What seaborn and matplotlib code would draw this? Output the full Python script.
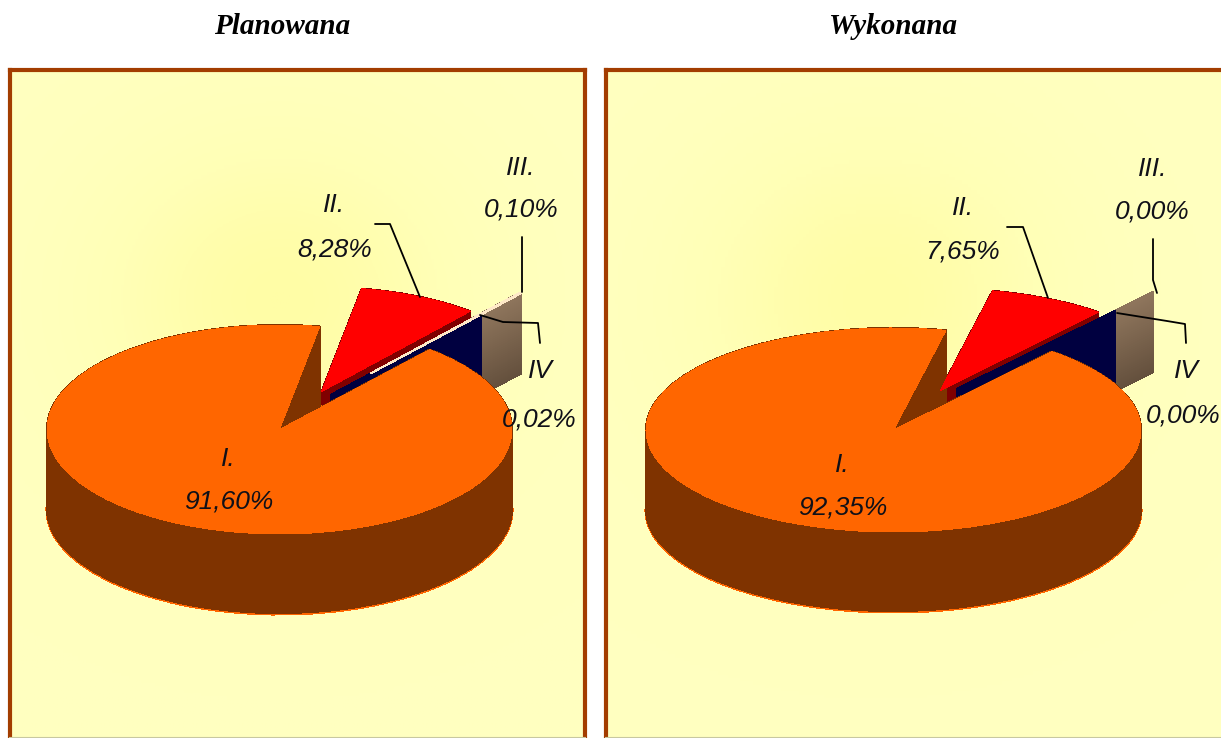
import numpy as np
import seaborn as sns
import matplotlib.pyplot as plt

sns.set_theme(style="white")

# Chart values
titles = ["Planowana", "Wykonana"]
categories = ["I.", "II.", "III.", "IV"]
plan_values = [91.60, 8.28, 0.10, 0.02]
done_values = [92.35, 7.65, 0.00, 0.00]

top_colors = ["#FF6600", "#FF0000", "#FFE9C8", "#000040"]
side_colors = ["#7F3300", "#800000", None, "#000040"]

W, H = 1221, 738
DEPTH_PX = 80

# box is in reference pixels: left, right, top, bottom; shift is a small per-slice pixel nudge
panels = [
    dict(title=titles[0], values=plan_values, box=(10, 585, 70, 738), cx=279.5, cy=429.5, rx=232.5, ry=104.5,
         start=409.8, explode=[0, 0.40, 0.64, 0.37], shift=[(0, 0), (3, 0), (-4, -5), (-4, -5)], title_xy=(282, 27),
         label_xy=[(228, 459, 229, 502), (334, 205, 335, 249), (521, 168, 521, 210), (540, 371, 539, 419)],
         leaders=[[(375, 224), (390, 224), (420, 297)],
                  [(522, 237), (522, 292)],
                  [(480, 315), (503, 322), (538, 323), (540, 343)]]),
    dict(title=titles[1], values=done_values, box=(606, 1230, 70, 738), cx=893.5, cy=430, rx=247.5, ry=102,
         start=410.2, explode=[0, 0.43, 0.67, 0.43], shift=[(0, 0), (0, 0), (-5, -7), (-5, -7)], title_xy=(893, 27),
         label_xy=[(842, 465, 843, 508), (963, 208, 963, 251), (1153, 169, 1152, 212), (1186, 371, 1183, 415)],
         leaders=[[(1007, 227), (1023, 227), (1048, 298)],
                  [(1153, 239), (1153, 280), (1157, 293)],
                  [(1117, 313), (1167, 321), (1185, 324), (1186, 343)]]),
]

glow = sns.blend_palette(["#FFFFC0", "#FFFFB6", "#FFFDA6"], as_cmap=True)
wall_colors = sns.blend_palette(["#8E755C", "#64503D"], DEPTH_PX + 1)
label_font = "Liberation Sans"


def draw_slice(ax, p, i, drop_px, color, lw=0.0):
    # one slice of the pie, pushed down by drop_px, the other slices removed
    sx, sy = p["shift"][i]
    wedges, _ = ax.pie(p["values"], startangle=p["start"], counterclock=False, explode=p["explode"],
                       center=(sx / p["rx"], -(sy + drop_px) / p["ry"]), radius=1)
    for j, w in enumerate(wedges):
        if j != i:
            w.remove()
        else:
            w.set_facecolor(color)
            w.set_edgecolor(color)
            w.set_linewidth(lw)
            w.set_antialiased(False)


fig = plt.figure(figsize=(W / 100, H / 100), dpi=100, facecolor="white")

for p in panels:
    left, right, top, bottom = p["box"]
    ax = fig.add_axes([left / W, 1 - bottom / H, (right - left) / W, (bottom - top) / H])

    # slices, back to front: side walls first, then the top faces
    for d in range(DEPTH_PX, -1, -1):
        draw_slice(ax, p, 2, d, wall_colors[d], lw=1.0)
    for d in range(DEPTH_PX, -1, -1):
        draw_slice(ax, p, 1, d, side_colors[1], lw=0.8)
    for d in range(DEPTH_PX, -1, -1):
        draw_slice(ax, p, 3, d, side_colors[3], lw=1.0)
    draw_slice(ax, p, 0, DEPTH_PX, top_colors[0], lw=1.5)
    for d in range(DEPTH_PX - 1, -1, -1):
        draw_slice(ax, p, 0, d, side_colors[0], lw=0.8)
    draw_slice(ax, p, 1, 0, top_colors[1])
    draw_slice(ax, p, 3, 0, top_colors[3], lw=0.8)
    if p["values"][2] > 0:
        draw_slice(ax, p, 2, 0, top_colors[2], lw=0.7)
    draw_slice(ax, p, 0, 0, top_colors[0])

    # pie axis units map to an ellipse of rx by ry pixels
    x0, x1 = (left - p["cx"]) / p["rx"], (right - p["cx"]) / p["rx"]
    y0, y1 = (p["cy"] - bottom) / p["ry"], (p["cy"] - top) / p["ry"]
    gx, gy = np.meshgrid(np.linspace(left, right, 200), np.linspace(top, bottom, 200))
    shade = np.exp(-(((gx - (left + 270)) / 190) ** 2 + ((gy - 300) / 170) ** 2))
    ax.imshow(shade, extent=(x0, x1, y0, y1), cmap=glow, vmin=0, vmax=1, aspect="auto", zorder=0)
    ax.set_aspect("auto")
    ax.set_xlim(x0, x1)
    ax.set_ylim(y0, y1)
    ax.set_frame_on(True)
    ax.set_xticks([])
    ax.set_yticks([])
    for name, spine in ax.spines.items():
        spine.set_color("#A33D00")
        spine.set_linewidth(3)
    ax.spines["bottom"].set_color("#C8C8A0")
    ax.spines["bottom"].set_linewidth(1.5)

# overlay in reference pixels for titles, labels and leader lines
over = fig.add_axes([0, 0, 1, 1])
over.axis("off")
over.patch.set_alpha(0)

for p in panels:
    over.text(p["title_xy"][0], p["title_xy"][1], p["title"], family="Liberation Serif", style="italic",
              weight="bold", fontsize=21, color="black", ha="center", va="center")
    for name, val, (nx, ny, vx, vy) in zip(categories, p["values"], p["label_xy"]):
        over.text(nx, ny, name, family=label_font, style="italic", fontsize=19, color="#101018",
                  ha="center", va="center")
        over.text(vx, vy, f"{val:.2f}%".replace(".", ","), family=label_font, style="italic", fontsize=19,
                  color="#101018", ha="center", va="center")
    for line in p["leaders"]:
        over.plot([q[0] for q in line], [q[1] for q in line], color="black", lw=1.3)

over.set_xlim(0, W)
over.set_ylim(H, 0)

fig.savefig("out.png", dpi=100)
